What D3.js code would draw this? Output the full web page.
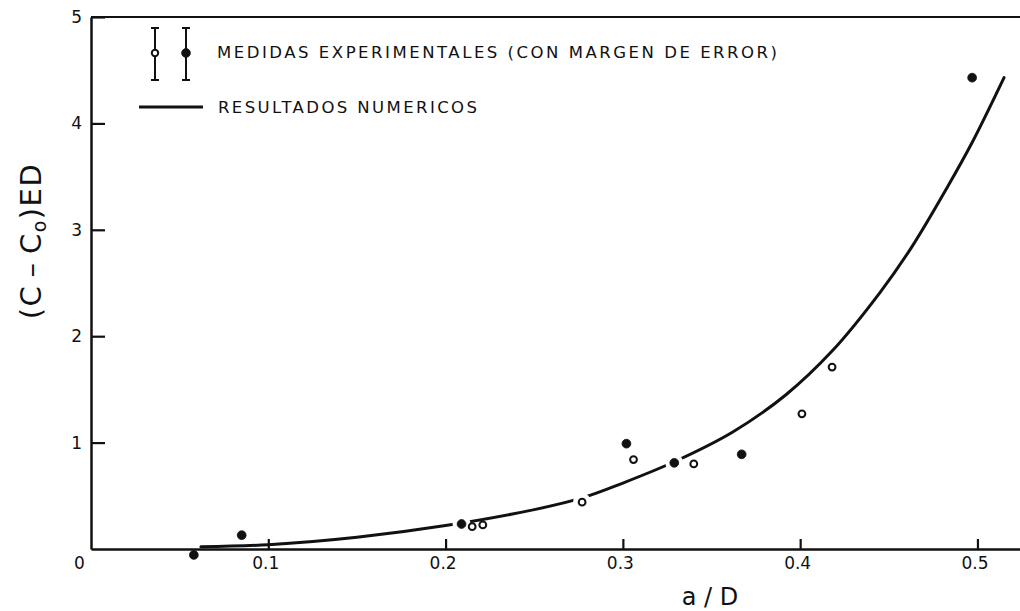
<!DOCTYPE html>
<html>
<head>
<meta charset="utf-8">
<script src="https://cdn.jsdelivr.net/npm/d3@7"></script>
<style>
    body { margin: 0; background: #fff; }
    svg { display: block; }
    text { font-family: 'DejaVu Sans', sans-serif; fill: #111; }
</style>
</head>
<body>
<svg></svg>
<script>
// measured points (open / filled markers)
const OPEN_X = [0.215, 0.221, 0.277, 0.306, 0.340, 0.401, 0.418];
const OPEN_Y = [0.21, 0.226, 0.44, 0.84, 0.80, 1.27, 1.71];
const FILLED_X = [0.058, 0.085, 0.209, 0.302, 0.329, 0.367, 0.497];
const FILLED_Y = [-0.056, 0.13, 0.235, 0.99, 0.81, 0.89, 4.43];

// numerical result curve
const CURVE_X = [0.062, 0.10, 0.15, 0.20, 0.25, 0.277, 0.30, 0.329, 0.362, 0.392, 0.418, 0.445, 0.463, 0.483, 0.497, 0.515];
const CURVE_Y = [0.02, 0.04, 0.11, 0.22, 0.37, 0.48, 0.62, 0.82, 1.10, 1.45, 1.86, 2.41, 2.84, 3.40, 3.82, 4.43];

const X_TICKS = [0, 0.1, 0.2, 0.3, 0.4, 0.5];
const Y_TICKS = [1, 2, 3, 4, 5];

const LEGEND_POINTS = 'MEDIDAS EXPERIMENTALES (CON MARGEN DE ERROR)';
const LEGEND_CURVE = 'RESULTADOS NUMERICOS';

const WIDTH = 1020;
const HEIGHT = 611;

const x = d3.scaleLinear().domain([0, 0.524]).range([91, 1020]);
const y = d3.scaleLinear().domain([0, 5]).range([549, 17]);

const svg = d3.select('svg').attr('width', WIDTH).attr('height', HEIGHT);

// top frame line
svg.append('line')
    .attr('x1', x(0)).attr('x2', x(0.524))
    .attr('y1', y(5)).attr('y2', y(5))
    .attr('stroke', '#111').attr('stroke-width', 2);

// curve
const curveData = CURVE_X.map((v, i) => ({ x: v, y: CURVE_Y[i] }));
const line = d3.line().x(d => x(d.x)).y(d => y(d.y)).curve(d3.curveCatmullRom.alpha(0.5));
const curvePath = svg.append('path')
    .datum(curveData)
    .attr('d', line)
    .attr('fill', 'none')
    .attr('stroke', '#111')
    .attr('stroke-width', 3)
    .attr('stroke-linecap', 'round');

const points = OPEN_X.map((v, i) => ({ x: v, y: OPEN_Y[i], open: true }))
    .concat(FILLED_X.map((v, i) => ({ x: v, y: FILLED_Y[i], open: false })));

// break the curve where a marker sits on it
const node = curvePath.node();
const len = node.getTotalLength();
const samples = d3.range(0, len, 1).map(l => node.getPointAtLength(l));
function distToCurve(d) {
    const px = x(d.x), py = y(d.y);
    return d3.min(samples, s => Math.hypot(s.x - px, s.y - py));
}
svg.append('g')
    .selectAll('circle')
    .data(points.filter(d => distToCurve(d) < 5))
    .enter()
    .append('circle')
    .attr('cx', d => x(d.x))
    .attr('cy', d => y(d.y))
    .attr('r', 9)
    .attr('fill', '#fff');

// axes
const yAxis = svg.append('g')
    .attr('transform', `translate(${x(0)},0)`)
    .call(d3.axisLeft(y).tickValues(Y_TICKS).tickSize(-14).tickSizeOuter(0).tickPadding(9)
        .tickFormat(d3.format('d')));
yAxis.select('.domain').attr('stroke', '#111').attr('stroke-width', 2.5);
yAxis.selectAll('.tick line').attr('stroke', '#111').attr('stroke-width', 2.2);
yAxis.selectAll('.tick text').attr('font-size', 17).attr('font-family', 'DejaVu Sans').attr('fill', '#111');

const xAxis = svg.append('g')
    .attr('transform', `translate(0,${y(0)})`)
    .call(d3.axisBottom(x).tickValues(X_TICKS).tickSize(-10).tickSizeOuter(0).tickPadding(8)
        .tickFormat(d => d === 0 ? '0' : d.toFixed(1)));
xAxis.select('.domain').attr('stroke', '#111').attr('stroke-width', 2.5);
xAxis.selectAll('.tick line').attr('stroke', '#111').attr('stroke-width', 2.2)
    .filter(d => d === 0).remove();
xAxis.selectAll('.tick text').attr('font-size', 17).attr('font-family', 'DejaVu Sans').attr('fill', '#111')
    .attr('dx', d => d === 0 ? -12 : -3);

// markers
svg.append('g')
    .selectAll('circle')
    .data(points)
    .enter()
    .append('circle')
    .attr('cx', d => x(d.x))
    .attr('cy', d => y(d.y))
    .attr('r', d => d.open ? 3.4 : 4.4)
    .attr('fill', d => d.open ? '#fff' : '#111')
    .attr('stroke', '#111')
    .attr('stroke-width', d => d.open ? 2 : 0.8);

// legend
const legend = svg.append('g');
[{ cx: 155, open: true }, { cx: 186, open: false }].forEach(s => {
    legend.append('line').attr('x1', s.cx).attr('x2', s.cx).attr('y1', 28).attr('y2', 80)
        .attr('stroke', '#111').attr('stroke-width', 2);
    [28, 80].forEach(cy => legend.append('line')
        .attr('x1', s.cx - 4).attr('x2', s.cx + 4).attr('y1', cy).attr('y2', cy)
        .attr('stroke', '#111').attr('stroke-width', 2));
    legend.append('circle').attr('cx', s.cx).attr('cy', 53)
        .attr('r', s.open ? 3.2 : 4.4)
        .attr('fill', s.open ? '#fff' : '#111')
        .attr('stroke', '#111').attr('stroke-width', s.open ? 2 : 0.8);
});
legend.append('text').attr('x', 217).attr('y', 58).attr('font-size', 16.5)
    .attr('textLength', 560).attr('lengthAdjust', 'spacing').text(LEGEND_POINTS);
legend.append('line').attr('x1', 139).attr('x2', 203).attr('y1', 107).attr('y2', 107)
    .attr('stroke', '#111').attr('stroke-width', 3);
legend.append('text').attr('x', 218).attr('y', 113).attr('font-size', 16.5)
    .attr('textLength', 259).attr('lengthAdjust', 'spacing').text(LEGEND_CURVE);

// axis titles
const yTitle = svg.append('text')
    .attr('transform', 'translate(41,241) rotate(-90)')
    .attr('text-anchor', 'middle')
    .attr('font-size', 29)
    .attr('letter-spacing', 1.5);
yTitle.append('tspan').text('(C\u2009\u2013\u2009C');
yTitle.append('tspan').attr('font-size', 19).attr('dy', 5).text('o');
yTitle.append('tspan').attr('dy', -5).text(')ED');

svg.append('text')
    .attr('x', 710).attr('y', 605)
    .attr('text-anchor', 'middle')
    .attr('font-size', 24)
    .text('a / D');
</script>
</body>
</html>
